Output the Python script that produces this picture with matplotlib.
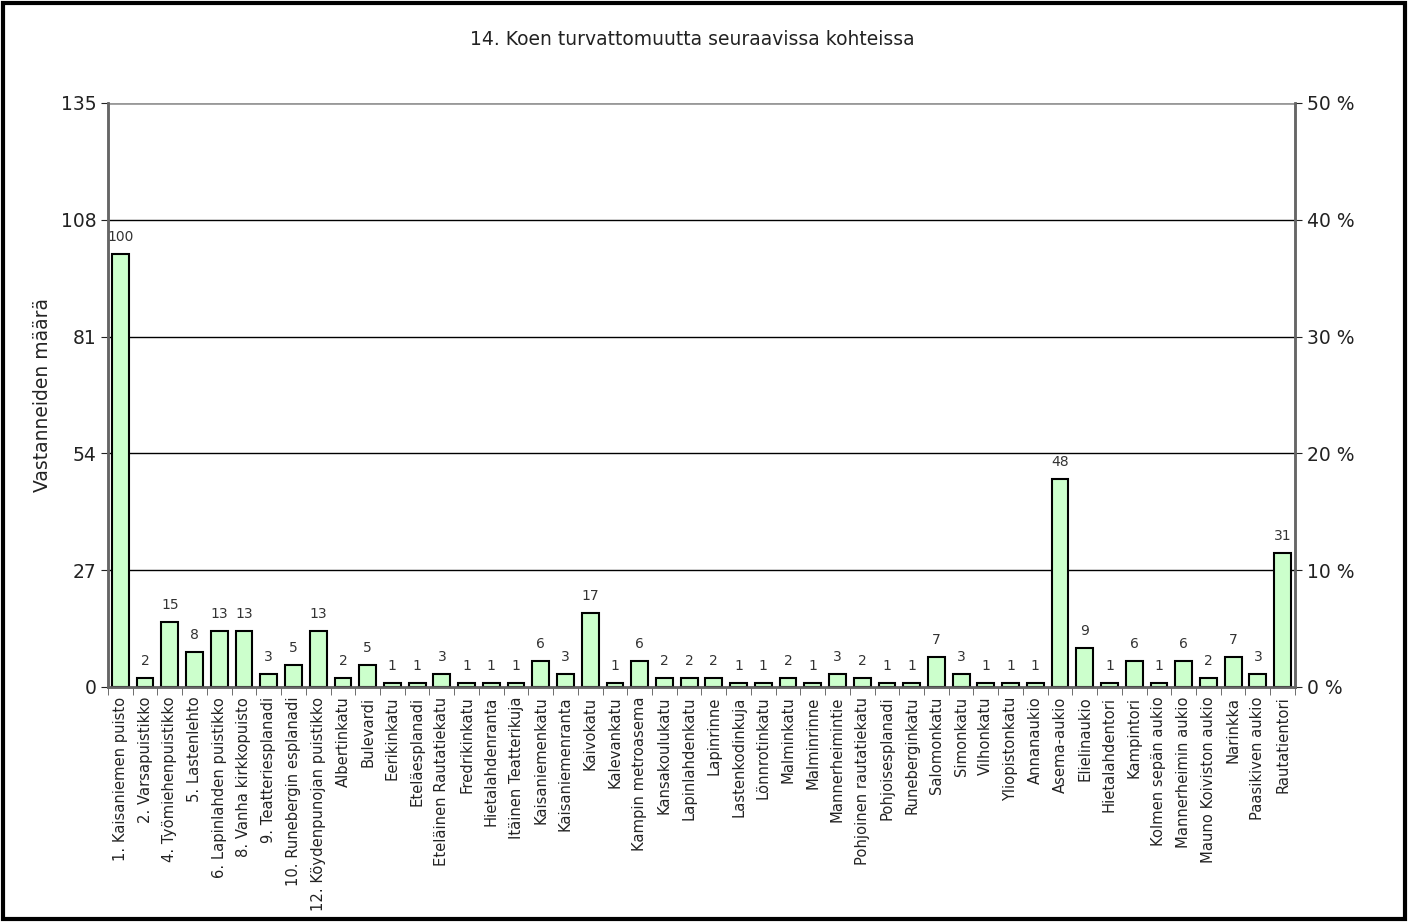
import matplotlib.pyplot as plt
from matplotlib.patches import Rectangle
from matplotlib.ticker import FixedLocator

# kohteet ja vastanneiden määrät
kohteet = [
    "1. Kaisaniemen puisto", "2. Varsapuistikko", "4. Työmiehenpuistikko", "5. Lastenlehto",
    "6. Lapinlahden puistikko", "8. Vanha kirkkopuisto", "9. Teatteriesplanadi",
    "10. Runebergin esplanadi", "12. Köydenpunojan puistikko", "Albertinkatu", "Bulevardi",
    "Eerikinkatu", "Eteläesplanadi", "Eteläinen Rautatiekatu", "Fredrikinkatu",
    "Hietalahdenranta", "Itäinen Teatterikuja", "Kaisaniemenkatu", "Kaisaniemenranta",
    "Kaivokatu", "Kalevankatu", "Kampin metroasema", "Kansakoulukatu", "Lapinlahdenkatu",
    "Lapinrinne", "Lastenkodinkuja", "Lönnrotinkatu", "Malminkatu", "Malminrinne",
    "Mannerheimintie", "Pohjoinen rautatiekatu", "Pohjoisesplanadi", "Runeberginkatu",
    "Salomonkatu", "Simonkatu", "Vilhonkatu", "Yliopistonkatu", "Annanaukio", "Asema-aukio",
    "Elielinaukio", "Hietalahdentori", "Kampintori", "Kolmen sepän aukio",
    "Mannerheimin aukio", "Mauno Koiviston aukio", "Narinkka", "Paasikiven aukio",
    "Rautatientori",
]
maarat = [100, 2, 15, 8, 13, 13, 3, 5, 13, 2, 5, 1, 1, 3, 1, 1, 1, 6, 3, 17, 1, 6, 2, 2,
          2, 1, 1, 2, 1, 3, 2, 1, 1, 7, 3, 1, 1, 1, 48, 9, 1, 6, 1, 6, 2, 7, 3, 31]
y_ticks = [0, 27, 54, 81, 108, 135]
pros_ticks = ["0 %", "10 %", "20 %", "30 %", "40 %", "50 %"]

fig = plt.figure(figsize=(14.08, 9.22), dpi=100)
ax = fig.add_axes([0.0767, 0.2549, 0.8430, 0.6334])

x = range(len(kohteet))
ax.bar(x, maarat, width=0.68, color="#ccffcc", edgecolor="black", linewidth=1.5, zorder=3)
for i, v in zip(x, maarat):
    ax.text(i, v + 2.3, str(v), ha="center", va="bottom", fontsize=10, color="#333333")

ax.set_xlim(-0.5, len(kohteet) - 0.5)
ax.set_ylim(0, 135)
ax.set_yticks(y_ticks)
ax.tick_params(axis="y", labelsize=13.5, length=5, direction="out", colors="#222222")
for yv in y_ticks[1:-1]:
    ax.axhline(yv, color="black", linewidth=1, zorder=1)
ax.axhline(135, color="#999999", linewidth=2, zorder=1)

# x-akselin nimet keskelle, tikit kategorioiden väliin
ax.set_xticks(list(x))
ax.set_xticklabels(kohteet, rotation=90, fontsize=10.6, color="#222222")
ax.tick_params(axis="x", which="major", length=0, pad=7)
ax.xaxis.set_minor_locator(FixedLocator([i - 0.5 for i in range(len(kohteet) + 1)]))
ax.tick_params(axis="x", which="minor", length=6, direction="out", color="#555555")

ax.spines["top"].set_visible(False)
for s in ["left", "right", "bottom"]:
    ax.spines[s].set_color("#666666")
    ax.spines[s].set_linewidth(1.8)
ax.set_ylabel("Vastanneiden määrä", fontsize=13.5, labelpad=6, color="#222222")

ax2 = ax.twinx()
ax2.set_ylim(0, 135)
ax2.set_yticks(y_ticks)
ax2.set_yticklabels(pros_ticks)
ax2.tick_params(axis="y", labelsize=13.5, length=5, direction="out", colors="#222222")
ax2.spines["top"].set_visible(False)
for s in ["left", "right", "bottom"]:
    ax2.spines[s].set_color("#666666")
    ax2.spines[s].set_linewidth(1.8)

fig.text(0.492, 0.957, "14. Koen turvattomuutta seuraavissa kohteissa",
         ha="center", va="center", fontsize=13.5, color="#222222")

fig.patches.append(Rectangle((0.002, 0.003), 0.996, 0.994, transform=fig.transFigure,
                             fill=False, edgecolor="black", linewidth=3))

fig.savefig("out.png", dpi=100)
